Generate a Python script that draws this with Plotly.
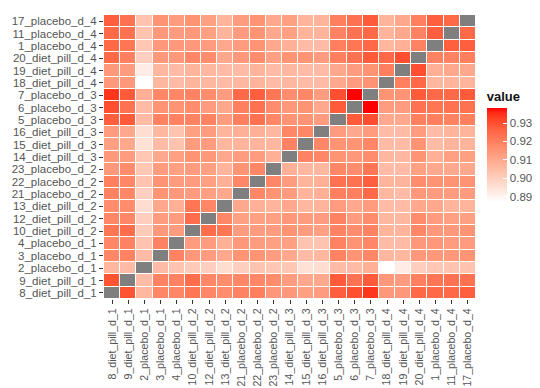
import plotly.graph_objects as go

samples = [
    "8_diet_pill_d_1", "9_diet_pill_d_1", "2_placebo_d_1", "3_placebo_d_1", "4_placebo_d_1",
    "10_diet_pill_d_2", "12_diet_pill_d_2", "13_diet_pill_d_2", "21_placebo_d_2", "22_placebo_d_2",
    "23_placebo_d_2", "14_diet_pill_d_3", "15_diet_pill_d_3", "16_diet_pill_d_3", "5_placebo_d_3",
    "6_placebo_d_3", "7_placebo_d_3", "18_diet_pill_d_4", "19_diet_pill_d_4", "20_diet_pill_d_4",
    "1_placebo_d_4", "11_placebo_d_4", "17_placebo_d_4",
]

# lower triangle of the (symmetric) matrix: row i holds values for columns 0..i-1
lower_triangle = [
    [],
    [0.929],
    [0.906, 0.905],
    [0.918, 0.919, 0.905],
    [0.918, 0.919, 0.903, 0.919],
    [0.922, 0.924, 0.901, 0.914, 0.913],
    [0.918, 0.918, 0.900, 0.913, 0.913, 0.924],
    [0.917, 0.917, 0.896, 0.910, 0.908, 0.922, 0.918],
    [0.919, 0.918, 0.900, 0.915, 0.914, 0.913, 0.912, 0.910],
    [0.920, 0.918, 0.903, 0.915, 0.913, 0.913, 0.912, 0.908, 0.918],
    [0.914, 0.917, 0.902, 0.913, 0.912, 0.913, 0.912, 0.907, 0.915, 0.918],
    [0.914, 0.913, 0.902, 0.910, 0.912, 0.915, 0.914, 0.910, 0.913, 0.913, 0.908],
    [0.912, 0.910, 0.895, 0.905, 0.903, 0.913, 0.913, 0.906, 0.907, 0.907, 0.906, 0.919],
    [0.913, 0.910, 0.896, 0.906, 0.903, 0.912, 0.913, 0.907, 0.908, 0.908, 0.906, 0.918, 0.918],
    [0.927, 0.928, 0.905, 0.919, 0.919, 0.919, 0.919, 0.913, 0.920, 0.923, 0.918, 0.915, 0.915, 0.913],
    [0.930, 0.923, 0.905, 0.915, 0.915, 0.917, 0.913, 0.910, 0.920, 0.923, 0.917, 0.914, 0.915, 0.910, 0.928],
    [0.934, 0.928, 0.908, 0.918, 0.918, 0.919, 0.917, 0.913, 0.925, 0.927, 0.922, 0.917, 0.918, 0.913, 0.930, 0.938],
    [0.914, 0.914, 0.887, 0.906, 0.905, 0.907, 0.906, 0.905, 0.906, 0.907, 0.905, 0.906, 0.905, 0.905, 0.910, 0.913, 0.915],
    [0.914, 0.913, 0.892, 0.906, 0.905, 0.907, 0.906, 0.905, 0.905, 0.907, 0.905, 0.906, 0.905, 0.905, 0.910, 0.913, 0.915, 0.920],
    [0.925, 0.920, 0.900, 0.914, 0.914, 0.918, 0.917, 0.910, 0.914, 0.917, 0.912, 0.915, 0.915, 0.913, 0.920, 0.923, 0.928, 0.925, 0.930],
    [0.925, 0.922, 0.902, 0.914, 0.914, 0.914, 0.913, 0.910, 0.913, 0.915, 0.910, 0.908, 0.905, 0.905, 0.920, 0.922, 0.925, 0.906, 0.908, 0.919],
    [0.925, 0.923, 0.903, 0.914, 0.913, 0.914, 0.912, 0.907, 0.913, 0.915, 0.910, 0.912, 0.907, 0.907, 0.919, 0.923, 0.925, 0.907, 0.910, 0.919, 0.927],
    [0.927, 0.923, 0.903, 0.915, 0.913, 0.915, 0.912, 0.907, 0.913, 0.915, 0.910, 0.912, 0.907, 0.907, 0.920, 0.923, 0.928, 0.907, 0.910, 0.920, 0.927, 0.925],
]

legend_ticks = [0.89, 0.90, 0.91, 0.92, 0.93]
value_min, value_max = 0.887, 0.938

n = len(samples)
z = [[None] * n for _ in range(n)]
for i, row in enumerate(lower_triangle):
    for j, v in enumerate(row):
        z[i][j] = v
        z[j][i] = v
diag = [[1 if i == j else None for j in range(n)] for i in range(n)]


# white -> red gradient interpolated in CIE Lab (like ggplot2)
def lab_to_hex(L, a, b):
    fy = (L + 16) / 116
    fx = fy + a / 500
    fz = fy - b / 200

    def finv(t):
        return t ** 3 if t ** 3 > 0.008856 else (t - 16 / 116) / 7.787

    X, Y, Z = 0.95047 * finv(fx), 1.0 * finv(fy), 1.08883 * finv(fz)
    r = 3.2406 * X - 1.5372 * Y - 0.4986 * Z
    g = -0.9689 * X + 1.8758 * Y + 0.0415 * Z
    bl = 0.0557 * X - 0.2040 * Y + 1.0570 * Z

    def gam(c):
        c = max(0.0, min(1.0, c))
        return 1.055 * c ** (1 / 2.4) - 0.055 if c > 0.0031308 else 12.92 * c

    return "#%02x%02x%02x" % tuple(round(gam(c) * 255) for c in (r, g, bl))


white_lab = (100.0, 0.0, 0.0)
red_lab = (53.24, 80.09, 67.20)
colorscale = []
for k in range(21):
    t = k / 20
    lab = [w + (r - w) * t for w, r in zip(white_lab, red_lab)]
    colorscale.append([t, lab_to_hex(*lab)])

font_family = "Liberation Sans, Arial, sans-serif"
tick_color = "#555555"

fig = go.Figure()
fig.add_trace(go.Heatmap(
    x=samples, y=samples, z=z,
    zmin=value_min, zmax=value_max,
    colorscale=colorscale,
    xgap=1, ygap=1,
    hoverongaps=False,
    colorbar=dict(
        title=dict(text="<b>value</b>", side="top", font=dict(size=13, color="#111111", family=font_family)),
        x=1.029, xanchor="left", xpad=0,
        y=0.742, yanchor="top", ypad=0,
        lenmode="pixels", len=114,
        thicknessmode="pixels", thickness=20,
        outlinewidth=0,
        tickvals=legend_ticks,
        ticktext=["%.2f" % v for v in legend_ticks],
        ticks="inside", ticklen=4, tickcolor="white", tickwidth=1,
        tickfont=dict(size=11.5, color=tick_color, family=font_family),
    ),
))
fig.add_trace(go.Heatmap(
    x=samples, y=samples, z=diag,
    zmin=0, zmax=1,
    colorscale=[[0, "#7f7f7f"], [1, "#7f7f7f"]],
    showscale=False, xgap=1, ygap=1, hoverongaps=False,
))

axis_common = dict(
    type="category", categoryorder="array", categoryarray=samples,
    tickmode="array", tickvals=samples, ticktext=samples,
    showgrid=False, zeroline=False, showline=False,
    ticks="outside", ticklen=4, tickwidth=1, tickcolor="#333333",
    automargin=False,
)
fig.update_xaxes(**axis_common, tickangle=-90,
                 tickfont=dict(size=10.6, color=tick_color, family=font_family))
fig.update_yaxes(**axis_common,
                 tickfont=dict(size=11.5, color=tick_color, family=font_family))

fig.update_layout(
    width=540, height=388,
    margin=dict(l=96, r=72, t=7, b=97),
    paper_bgcolor="white", plot_bgcolor="white",
    font=dict(family=font_family),
)

fig.write_html("out.html")
